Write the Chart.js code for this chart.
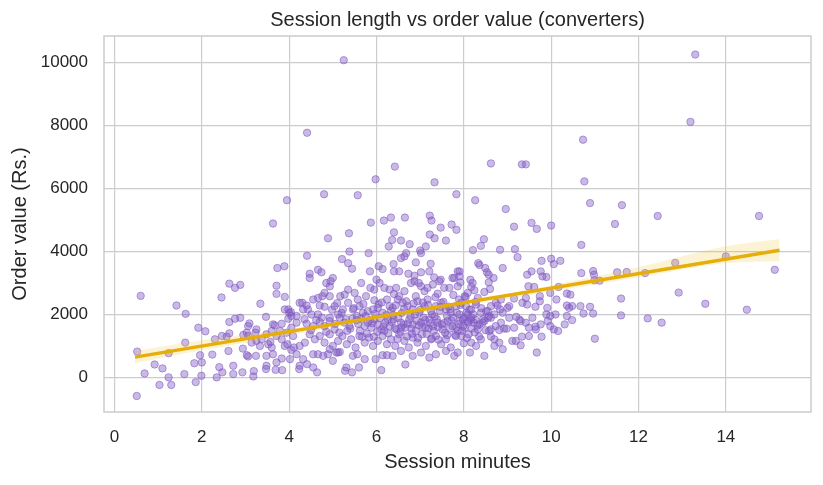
<!DOCTYPE html>
<html>
<head>
<meta charset="utf-8">
<script src="https://cdn.jsdelivr.net/npm/chart.js@4.4.1/dist/chart.umd.min.js"></script>
<style>
  html, body { margin: 0; padding: 0; background: #fff; }
  #wrap { width: 823px; height: 485px; }
</style>
</head>
<body>
<div id="wrap"><canvas id="chart" width="823" height="485"></canvas></div>
<script>
// [session minutes, order value Rs.]
var outliers = [
  [5.25,10080],[4.41,7775],[6.42,6700],[5.98,6295],[7.33,6200],[7.83,5820],[4.80,5820],[5.57,5790],[3.95,5630],
  [3.63,4890],[5.87,4920],[6.17,4985],[6.33,5080],[6.65,5080],[7.22,5140],[7.26,4985],[7.72,4860],[7.47,4760],
  [13.30,10260],[13.19,8120],[10.73,7555],[8.62,6800],[9.33,6770],[9.42,6770],[10.76,6230],[8.26,5630],[8.96,5350],
  [10.89,5540],[11.62,5475],[12.44,5130],[14.76,5130],[11.46,4875],[9.55,4910],[9.15,4790],[9.67,4720],[10.0,4825]
];
var leftPoints = [
  [4.89,4420],[5.37,4580],[6.40,4610],[6.36,4370],[6.56,4350],[6.76,4235],[6.28,4160],[7.0,4030],[7.02,3950],
  [7.22,4540],[7.33,4420],[7.59,4350],[7.83,4690],[7.13,4160],[5.38,4000],[5.82,3950],[4.41,3865],[5.21,3760],
  [5.35,3630],[5.44,3455],[6.64,3845],[6.68,3950],[6.56,3790],[6.90,3655],[7.24,3610],[6.39,3600],[6.05,3530],
  [6.14,3445],[5.85,3370],[6.0,3105],[6.40,3370],[6.52,3370],[6.73,3295],[6.87,3230],[7.02,3340],[7.21,3370],
  [7.32,3180],[7.47,3105],[7.74,3160],[7.86,3370],[4.66,3420],[4.74,3340],[4.47,3295],[4.47,3160],[5.0,3160],
  [4.95,3055],[4.85,3000],[4.93,2895],[4.81,2685],[3.73,3475],[3.89,3530],[3.71,2915],[3.71,2655],[3.90,2560],
  [2.63,2980],[2.76,2845],[2.88,2940],[2.45,2540],[0.60,2590],[1.42,2285],[1.63,2020],[1.92,1580],[2.08,1465],
  [1.62,1105],[0.52,820],[0.92,410],[1.10,285],[0.69,125],[1.24,0],[1.03,-240],[1.30,-240],[0.51,-590],[1.60,105],
  [1.86,-150],[1.99,50],[2.0,475],[1.96,705],[1.83,450],[2.24,725],[2.34,0],[2.40,325],[2.47,160],[2.72,370],
  [2.72,105],[2.93,160],[3.18,30],[3.19,200],[2.61,840],[2.30,1210],[2.46,1315],[2.57,1295],[2.63,1400],[1.24,770],
  [2.63,1760],[2.76,1865],[2.88,1895],[3.09,1715],[3.34,2340],[3.47,1925],[3.63,1685],[3.67,1655],[3.83,1705],
  [3.90,2160],[4.0,2055],[4.04,2075],[3.98,2160],[4.30,2370],[4.43,2160],[4.40,1705],[2.95,1350],[3.06,1315],
  [3.23,1420],[2.94,915],[3.03,705],[3.33,1000],[3.24,685],[3.06,665],[3.52,1055],[3.57,1125],[3.60,950],
  [3.63,735],[3.48,685],[3.47,265],[3.48,370],[3.69,240],[3.84,230],[3.71,475],[3.83,600],[3.96,1055],[4.05,875],
  [4.02,580],[4.11,950],[4.23,265],[4.24,370],[4.41,420],[4.55,315],[4.64,160],[4.66,735],[4.55,735],[4.78,685],
  [4.89,735],[4.93,895],[5.08,790],[5.16,810],[5.28,210],[5.31,315],[5.44,160],[5.60,315],[6.11,230],[5.98,580],
  [6.14,705],[6.24,705],[6.37,685],[6.66,410],[5.46,685],[5.56,735],[5.73,580],
  [3.03,1420],[3.14,1105],[3.25,1160],[3.37,1210],[3.48,1370],[3.60,1475],[3.71,1315],[3.83,1210],[3.90,1000],
  [3.94,1420],[3.79,1475],[4.05,1950],[3.98,1865],[4.17,1950],[3.25,1525],[3.06,1630]
];
var corePoints = [
  [5.17,2580],[5.27,2630],[5.35,2790],[5.50,2685],[5.57,2475],[5.65,3000],[5.76,2580],[5.86,2845],[5.95,2790],
  [6.07,3000],[6.18,2845],[6.30,2790],[6.45,2845],[6.52,2580],[6.64,2740],[6.79,3000],[6.87,3055],[6.97,3000],
  [7.02,2895],[7.10,2740],[7.17,2845],[7.29,2950],[7.44,3055],[7.55,2845],[7.67,2845],[7.78,3160],[7.86,2895],
  [4.55,2475],[4.66,2525],[4.76,2580],[4.93,2580],[4.70,2285],[4.24,2370],[4.40,2285],
  [4.32,2160],[4.51,2000],[4.81,2245],[5.04,2265],[5.12,2000],[5.23,2160],[5.35,2370],[5.46,2160],[5.61,2265],
  [5.69,2055],[5.80,2105],[5.92,2160],[6.03,2210],[6.14,2055],[6.24,2475],[6.30,2265],[6.37,2210],[6.49,2475],
  [6.60,2370],[6.71,2265],[6.83,2160],[6.94,2420],[6.98,2055],[7.10,2265],[7.17,2475],[7.25,2105],[7.36,2265],
  [7.48,2370],[7.59,2160],[7.70,2055],[7.82,2265],[7.89,2475],[4.66,2000],[4.93,1895],
  [4.05,1580],[4.17,1740],[4.55,1630],[4.70,1760],[4.81,1630],[4.93,1790],[5.04,1525],[5.16,1895],[5.27,1740],
  [5.38,1630],[5.54,1820],[5.65,1865],[5.73,1630],[5.80,1740],[5.88,1580],[5.95,1840],[6.03,1685],[6.11,1525],
  [6.20,1740],[6.30,1630],[6.39,1840],[6.46,1525],[6.56,1740],[6.66,1580],[6.75,1840],[6.83,1685],[6.90,1475],
  [7.02,1740],[7.12,1580],[7.21,1840],[7.29,1630],[7.40,1740],[7.51,1525],[7.63,1790],[7.74,1630],[7.86,1475],
  [4.09,1315],[4.24,1000],[4.36,1105],[4.47,1370],[4.59,1210],[4.70,1315],[4.81,1105],[4.93,1370],[5.00,1000],
  [5.12,1160],[5.22,1315],[5.32,1055],[5.42,1210],[5.52,950],[5.61,1315],[5.73,1105],[5.83,1265],[5.92,1000],
  [6.03,1160],[6.14,1315],[6.24,1055],[6.33,1210],[6.43,1000],[6.52,1370],[6.64,1160],[6.74,950],[6.83,1265],
  [6.94,1105],[7.04,1370],[7.13,1000],[7.25,1210],[7.36,1315],[7.48,1055],[7.59,1210],[7.70,950],[7.82,1315],
  [4.17,735],[4.32,580],[5.00,525],[5.12,790],[6.56,840],[6.83,685],[7.02,790],[7.21,630],[7.36,735],[7.59,840],
  [7.78,685],[7.86,790],
  [5.55,1950],[5.62,1480],[5.70,2330],[5.78,1390],[5.90,1720],[5.97,2020],[6.02,1450],[6.08,1880],[6.12,2380],
  [6.16,1620],[6.22,1980],[6.27,1400],[6.33,2120],[6.35,1760],[6.42,1560],[6.44,2290],[6.50,1890],[6.55,1450],
  [6.58,2050],[6.62,1680],[6.68,2420],[6.70,1300],[6.78,1950],[6.80,1550],[6.85,2350],[6.92,1800],[6.95,1250],
  [7.00,2150],[7.05,1600],[7.08,1900],[7.15,1380],[7.18,2300],[7.23,1720],[7.27,2000],[7.31,1480],[7.35,2550],
  [7.38,1850],[7.42,1200],[7.45,2120],[7.50,1680],[7.53,2400],[7.57,1420],[7.61,1960],[7.65,2250],[7.68,1550],
  [7.72,1800],[7.76,2620],[7.80,1350],[7.84,2050],[7.88,1700],[7.92,2300],[7.96,1480],[8.00,1900],[8.04,2550],
  [8.07,1250],[8.10,1750],[8.13,2150],[8.18,1550],[8.22,2000],[8.27,2400],[8.31,1650],[8.35,1300],[8.40,2200],
  [8.44,1850],[8.50,1500],[8.55,2100],[5.05,1700],[5.15,1420],[5.20,2050],[5.30,1850],[5.40,1550],[5.48,2200],
  [4.75,1900],[4.85,1450],[4.98,2150],[4.62,1820],[4.50,1500],[4.35,1850],
  [5.85,1820],[5.94,1290],[6.05,2330],[6.18,1480],[6.26,1850],[6.38,1980],[6.48,1220],[6.57,1590],[6.63,2180],
  [6.72,1710],[6.81,1390],[6.88,2000],[6.97,1660],[7.06,2380],[7.11,1820],[7.19,1560],[7.26,1240],[7.33,1940],
  [7.41,1600],[7.47,2240],[7.55,1730],[7.62,1340],[7.69,2170],[7.75,1900],[7.83,1580],[7.91,1800],[7.99,1640],
  [8.06,2050],[8.16,1820],[8.25,1430],[5.58,1700],[5.67,1290],[5.75,1950],[5.10,2360],[5.33,1480],[5.45,1870],
  [6.90,2580],[7.40,2660],[6.40,2650],[5.95,2450]
];
var rightPoints = [
  [7.90,3370],[7.90,3210],[7.92,3020],[8.15,3105],[8.20,3000],[8.17,2875],[8.24,2770],[8.47,2715],[8.57,3020],
  [8.60,2810],[8.33,3630],[8.36,3570],[8.49,3475],[8.53,3340],[8.57,3265],[8.68,3160],[8.89,3475],[8.02,2580],
  [8.09,2685],[8.32,2525],[8.85,2475],[9.15,2505],[9.42,2525],[9.74,2580],[9.48,2895],[9.61,2875],[9.98,2685],
  [9.45,3265],[9.55,3370],[9.76,3370],[9.80,3210],[9.89,3190],[9.78,3705],[10.0,3770],[10.06,3600],[10.21,3705],
  [8.46,4390],[8.39,4180],[8.21,4045],[8.83,4055],[9.17,4075],[9.23,3820],[10.69,4210],[10.17,2875],[10.36,2665],
  [10.44,2630],
  [10.69,3315],[10.96,3380],[10.98,3265],[10.99,3085],[11.11,3075],[11.51,3340],[11.73,3350],[12.15,3315],
  [12.84,3640],[14.0,3845],[15.12,3420],[12.92,2695],[11.6,2505],[11.6,1970],[12.21,1875],[12.53,1740],
  [13.53,2340],[14.48,2150],[11.0,1230],[10.89,2245],[10.67,2265],[10.96,2030],[10.74,2030],[10.36,2285],
  [10.41,2210],[10.48,2265],[10.36,1950],[10.31,1685],[10.48,1820],[10.12,2475],[10.10,2000],[9.98,1950],
  [10.16,1475],[10.06,1525],[9.98,1630],[9.92,1790],[9.89,2000],[9.91,2210],
  [7.94,2370],[8.05,2265],[8.17,2160],[8.28,2315],[8.39,2055],[8.51,2105],[8.62,2265],[8.73,2370],[8.77,2285],
  [8.83,2160],[8.89,2055],[9.0,2210],[9.04,2265],[9.34,2370],[9.45,2315],[9.64,2245],[9.74,2420],[8.70,2000],
  [8.58,1950],[7.90,2000],[8.09,2000],
  [7.98,1840],[8.09,1790],[8.17,1895],[8.23,1740],[8.26,1840],[8.36,1685],[8.43,1740],[8.47,1790],[8.55,1895],
  [8.62,1895],[8.73,1630],[8.85,1740],[8.92,1550],[8.81,1505],[8.62,1525],[9.04,1895],[9.20,1925],[9.27,1840],
  [9.30,1790],[9.15,1580],[9.57,1895],[9.65,1525],[9.64,1610],[9.76,1685],[8.02,1580],[8.32,1525],[8.58,1475],
  [9.42,1740],[9.49,1580],
  [7.94,1315],[8.11,1370],[8.0,1085],[8.17,1105],[8.39,1210],[8.62,1295],[8.70,1210],[8.70,1000],[8.89,895],
  [8.98,1550],[9.11,1160],[9.19,1160],[9.30,1020],[9.33,1295],[9.78,1295],[9.67,790],[8.47,685],[8.14,790],
  [8.28,1000],[8.81,1105],[9.49,1315]
];

// fitted line and its confidence band
var fitMinutes = [0.47, 15.23];
var fitValues = [644, 4041];
var bandMinutes = [0.47, 2, 4, 6, 7, 8, 10, 12, 14, 15.23];
var bandLow = [450, 860, 1340, 1815, 2045, 2275, 2730, 3185, 3630, 3690];
var bandHigh = [840, 1180, 1540, 1925, 2145, 2385, 2920, 3505, 4170, 4390];

// axis ticks
var xTicks = [0, 2, 4, 6, 8, 10, 12, 14];
var yTicks = [0, 2000, 4000, 6000, 8000, 10000];

function toXY(list) {
  return list.map(function(p) { return {x: p[0], y: p[1]}; });
}
function pair(xs, ys) {
  return xs.map(function(v, i) { return {x: v, y: ys[i]}; });
}
function setTicks(values) {
  return function(scale) {
    scale.ticks = values.map(function(v) { return {value: v}; });
  };
}

var allPoints = toXY(outliers.concat(leftPoints, corePoints, rightPoints));

var frame = {
  id: 'frame',
  afterDraw: function(chart) {
    var a = chart.chartArea, ctx = chart.ctx;
    ctx.save();
    ctx.strokeStyle = '#cccccc';
    ctx.lineWidth = 1.5;
    ctx.strokeRect(a.left, a.top, a.right - a.left, a.bottom - a.top);
    ctx.restore();
  }
};

var FONT = "Arial, 'Liberation Sans', sans-serif";

new Chart(document.getElementById('chart'), {
  type: 'scatter',
  data: {
    datasets: [
      {
        type: 'line',
        data: pair(fitMinutes, fitValues),
        borderColor: '#e6ae0b',
        borderWidth: 3.4,
        pointRadius: 0,
        fill: false,
        order: 0
      },
      {
        type: 'line',
        data: pair(bandMinutes, bandLow),
        borderWidth: 0,
        borderColor: 'rgba(0,0,0,0)',
        pointRadius: 0,
        cubicInterpolationMode: 'monotone',
        fill: false,
        order: 1
      },
      {
        type: 'line',
        data: pair(bandMinutes, bandHigh),
        borderWidth: 0,
        borderColor: 'rgba(0,0,0,0)',
        backgroundColor: 'rgba(240,196,40,0.2)',
        pointRadius: 0,
        cubicInterpolationMode: 'monotone',
        fill: '-1',
        order: 1
      },
      {
        data: allPoints,
        pointRadius: 3.7,
        backgroundColor: 'rgba(126,87,194,0.42)',
        borderColor: 'rgba(126,87,194,0.55)',
        borderWidth: 1,
        order: 2
      }
    ]
  },
  options: {
    responsive: false,
    animation: false,
    layout: { padding: { left: 0, right: 12, top: 0, bottom: 0 } },
    plugins: {
      legend: { display: false },
      tooltip: { enabled: false },
      title: {
        display: true,
        fullSize: false,
        text: 'Session length vs order value (converters)',
        color: '#262626',
        font: { family: FONT, size: 20, weight: 'normal' },
        padding: { top: 8, bottom: 4 }
      }
    },
    scales: {
      x: {
        type: 'linear',
        min: -0.24,
        max: 15.95,
        border: { display: false },
        grid: { color: '#cccccc', lineWidth: 1.2, drawTicks: false },
        afterBuildTicks: setTicks(xTicks),
        ticks: {
          padding: 15,
          color: '#262626',
          font: { family: FONT, size: 17 },
          maxRotation: 0,
          autoSkip: false,
          callback: function(v) { return String(v); }
        },
        title: {
          display: true,
          text: 'Session minutes',
          color: '#262626',
          font: { family: FONT, size: 20 },
          padding: { top: 0, bottom: 11 }
        },
        afterFit: function(scale) { scale.height = 73; }
      },
      y: {
        type: 'linear',
        min: -1100,
        max: 10850,
        border: { display: false },
        grid: { color: '#cccccc', lineWidth: 1.2, drawTicks: false },
        afterBuildTicks: setTicks(yTicks),
        ticks: {
          padding: 16,
          color: '#262626',
          font: { family: FONT, size: 17 },
          autoSkip: false,
          callback: function(v) { return String(v); }
        },
        title: {
          display: true,
          text: 'Order value (Rs.)',
          color: '#262626',
          font: { family: FONT, size: 20 },
          padding: { top: 8, bottom: 0 }
        },
        afterFit: function(scale) { scale.width = 104; }
      }
    }
  },
  plugins: [frame]
});
</script>
</body>
</html>
